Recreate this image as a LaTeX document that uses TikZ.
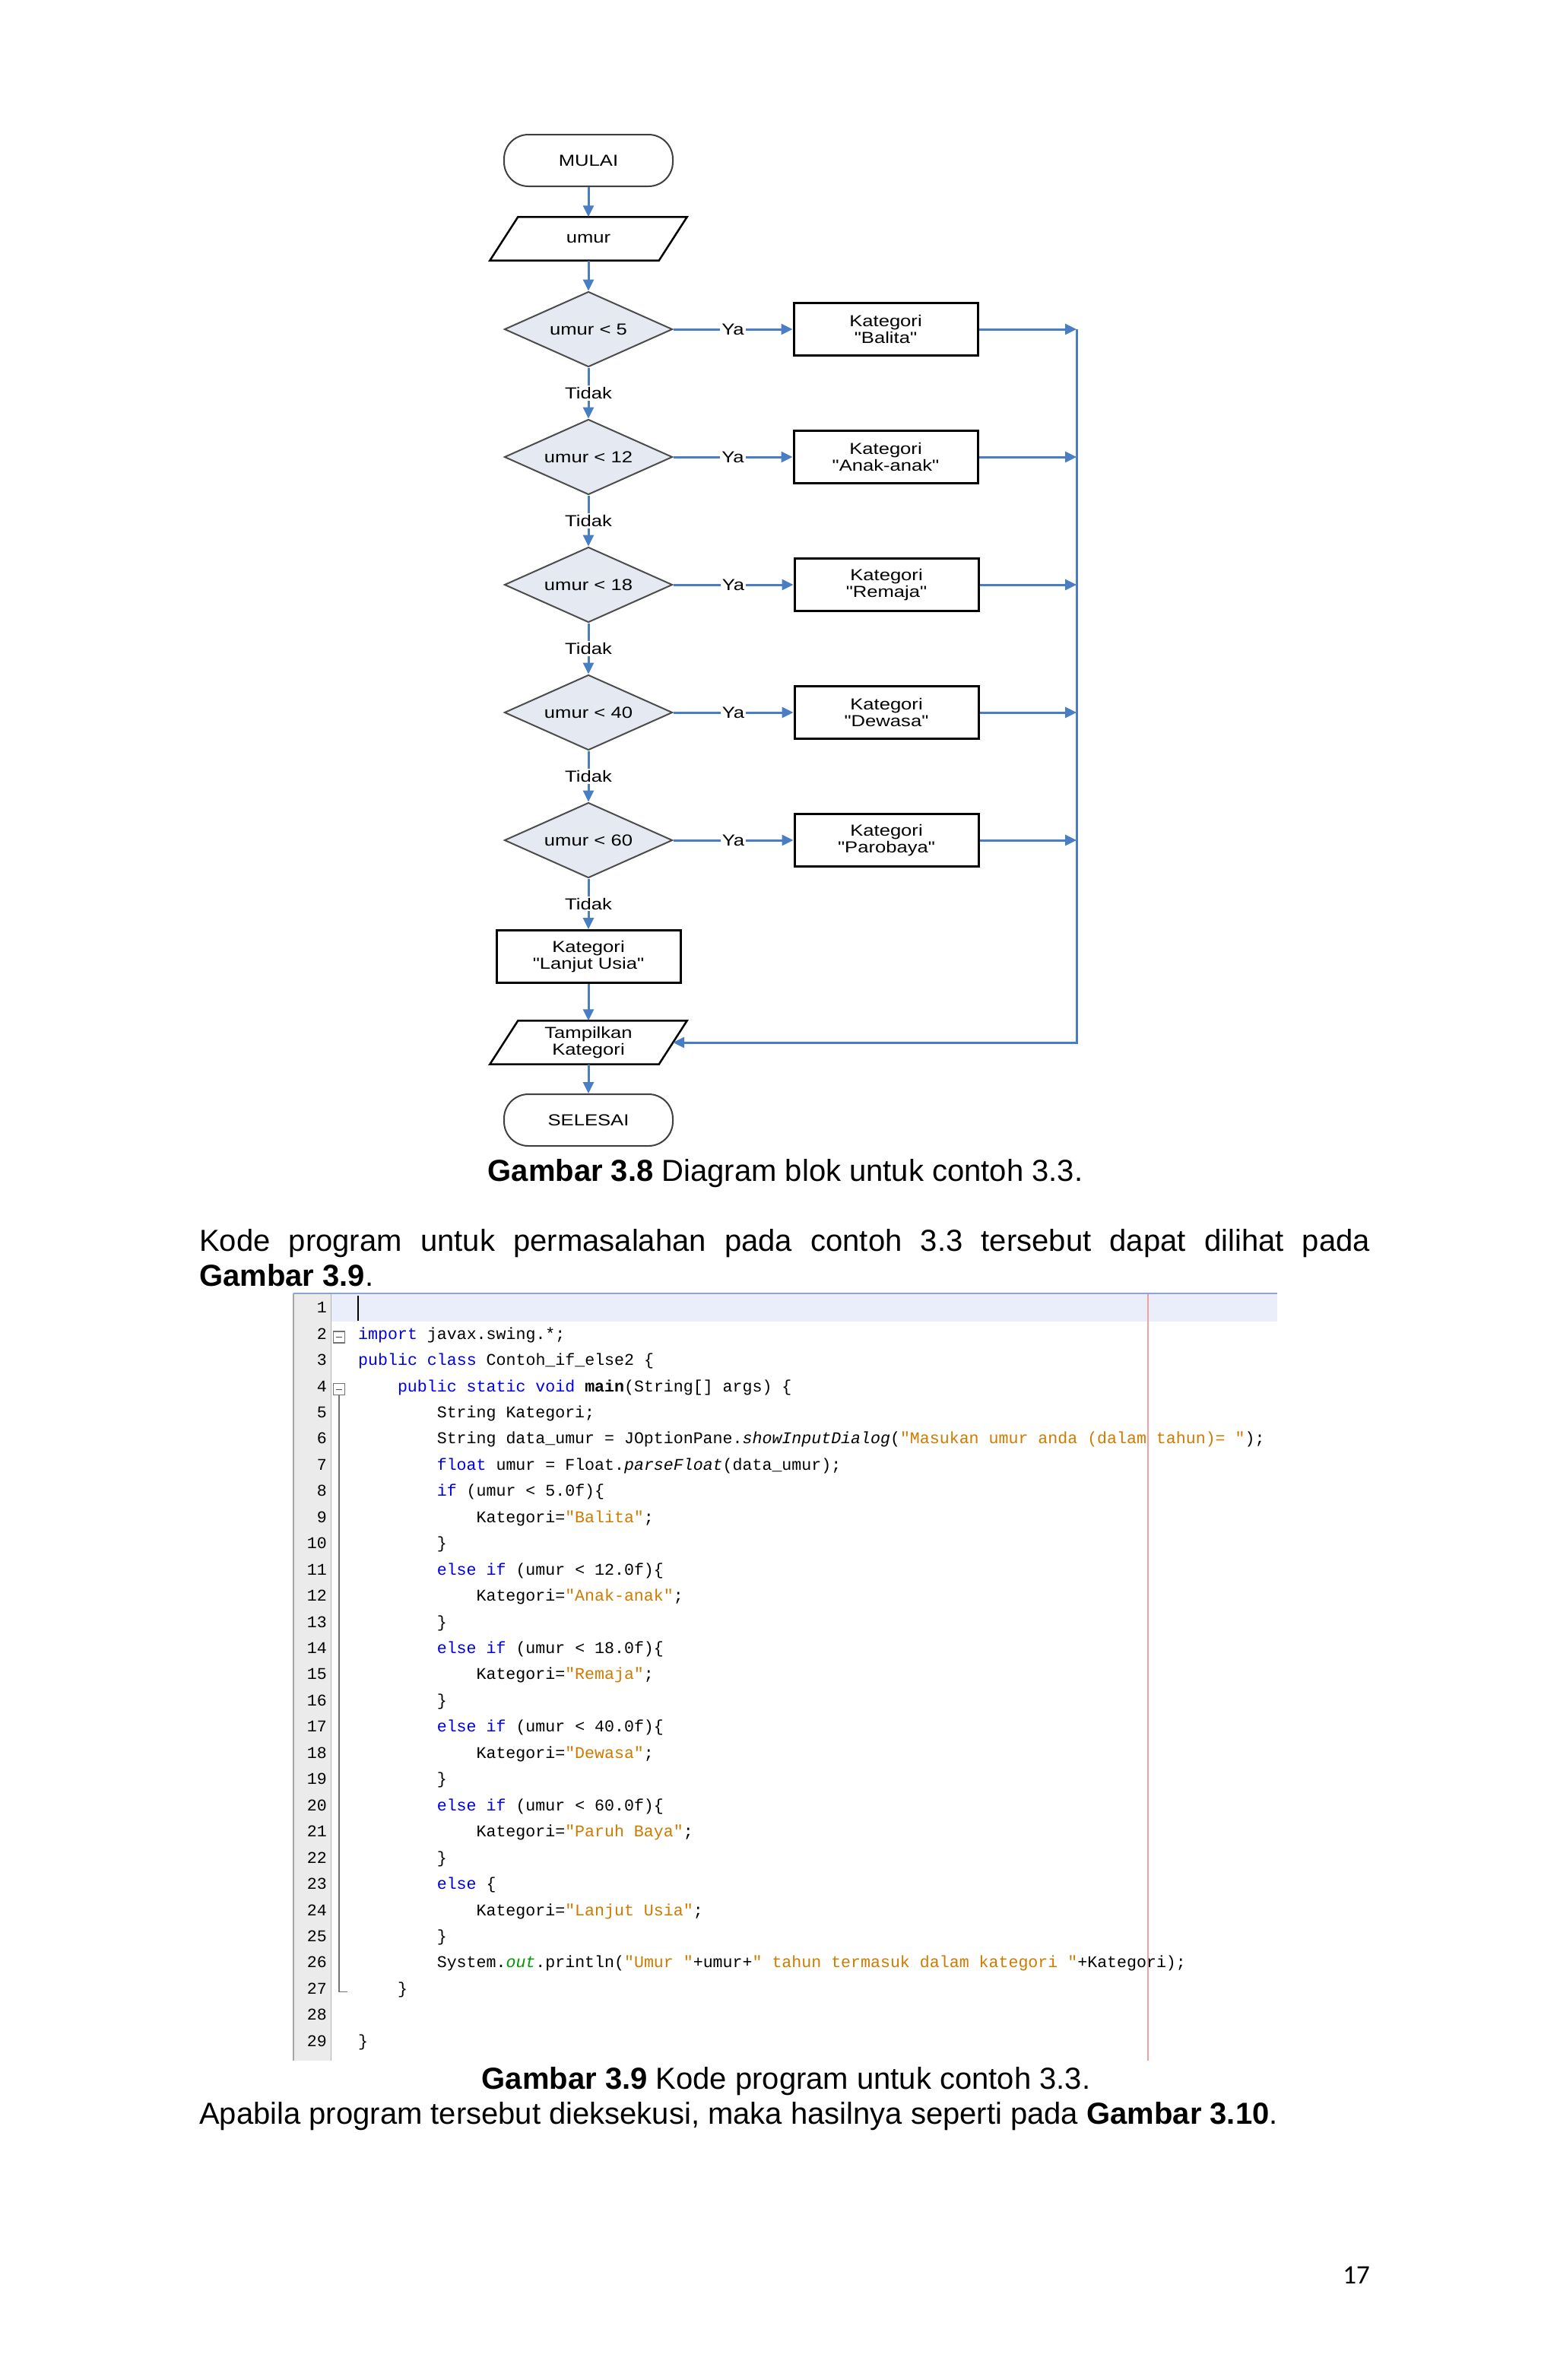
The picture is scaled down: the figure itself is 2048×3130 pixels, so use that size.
\documentclass[tikz,border=0pt]{standalone}
\usepackage{fontspec}
\setmainfont{Liberation Sans}
\newfontfamily\codefont{Liberation Mono}
\newfontfamily\flowfont[FakeStretch=1.22]{Liberation Sans}
\newfontfamily\pagefont{Carlito}
\usetikzlibrary{arrows.meta,shapes.geometric,calc}
\definecolor{flowblue}{RGB}{74,126,196}
\definecolor{dfill}{RGB}{228,233,242}
\definecolor{kwblue}{RGB}{0,0,230}
\definecolor{strorange}{RGB}{206,123,0}
\definecolor{fldgreen}{RGB}{0,153,0}
\definecolor{guttergray}{RGB}{235,235,235}
\definecolor{hiline}{RGB}{233,238,250}
\definecolor{topline}{RGB}{140,165,205}
\definecolor{marginred}{RGB}{244,160,160}
\newcommand\ckw[1]{\textcolor{kwblue}{#1}}
\newcommand\cstr[1]{\textcolor{strorange}{#1}}
\newcommand\flowtext{\flowfont\fontsize{21}{22}\selectfont}
\newcommand\bodytext{\fontsize{40}{46}\selectfont}
\newcommand\codetext{\codefont\fontsize{21.6}{25}\selectfont}
\begin{document}
\begin{tikzpicture}[x=1pt,y=-1pt,
  flow/.style={draw=flowblue, line width=3pt, -{Triangle[length=15pt,width=14pt]}},
  term/.style={rectangle, draw=black!75, line width=2pt, rounded corners=32pt, minimum width=222pt, minimum height=68pt, font=\flowtext, inner sep=0pt},
  dec/.style={diamond, aspect=2.23, draw=black!70, line width=2pt, fill=dfill, minimum width=221pt, minimum height=99pt, inner sep=0pt, font=\flowtext},
  proc/.style={rectangle, draw=black, line width=3pt, minimum width=242pt, minimum height=69pt, align=center, font=\flowtext, inner sep=0pt},
  io/.style={rectangle, minimum width=222pt, minimum height=57pt, align=center, font=\flowtext, inner sep=0pt},
  lbl/.style={fill=white, inner sep=2pt, font=\flowtext},
  code/.style={anchor=mid west, inner sep=0pt, font=\codetext},
  lnum/.style={anchor=mid east, inner sep=0pt, font=\codetext},
  body/.style={inner sep=0pt, font=\bodytext}]
\fill[white] (0,0) rectangle (2048,3130);
\useasboundingbox (0,0) rectangle (2048,3130);

% ---------------- flowchart ----------------
\node[term] (mulai) at (774,211) {MULAI};
\node[io] (umur) at (774,314) {umur};
\draw[black, line width=2.5pt] ($(umur.north west)+(18.5,0)$) -- ($(umur.north east)+(18.5,0)$) -- ($(umur.south east)+(-18.5,0)$) -- ($(umur.south west)+(-18.5,0)$) -- cycle;
\node[dec] (d1) at (774,433) {umur < 5};
\node[dec] (d2) at (774,601) {umur < 12};
\node[dec] (d3) at (774,769) {umur < 18};
\node[dec] (d4) at (774,937) {umur < 40};
\node[dec] (d5) at (774,1105) {umur < 60};
\node[proc] (k1) at (1165,433) {Kategori\\"Balita"};
\node[proc] (k2) at (1165,601) {Kategori\\"Anak-anak"};
\node[proc] (k3) at (1166,769) {Kategori\\"Remaja"};
\node[proc] (k4) at (1166,937) {Kategori\\"Dewasa"};
\node[proc] (k5) at (1166,1105) {Kategori\\"Parobaya"};
\node[proc] (k6) at (774,1258) {Kategori\\"Lanjut Usia"};
\node[io] (tamp) at (774,1371) {Tampilkan\\Kategori};
\draw[black, line width=2.5pt] ($(tamp.north west)+(18.5,0)$) -- ($(tamp.north east)+(18.5,0)$) -- ($(tamp.south east)+(-18.5,0)$) -- ($(tamp.south west)+(-18.5,0)$) -- cycle;
\node[term] (selesai) at (774,1473) {SELESAI};
\coordinate (rt) at (1416,433);
\coordinate (rb) at (1416,1371);

\draw[flow] (mulai) -- (umur);
\draw[flow] (umur) -- (d1);
\draw[flow] (d1) -- node[lbl]{Tidak} (d2);
\draw[flow] (d2) -- node[lbl]{Tidak} (d3);
\draw[flow] (d3) -- node[lbl]{Tidak} (d4);
\draw[flow] (d4) -- node[lbl]{Tidak} (d5);
\draw[flow] (d5) -- node[lbl]{Tidak} (k6);
\draw[flow] (k6) -- (tamp);
\draw[flow] (tamp) -- (selesai);
\foreach \i in {1,...,5}{
  \draw[flow] (d\i) -- node[lbl]{Ya} (k\i);
  \draw[flow] (k\i) -- (k\i -| rt);
}
\draw[flow] (rt) -- (rb) -- (tamp.east);

% ---------------- texts ----------------
\node[body, anchor=base] (cap38) at (1033,1553) {\textbf{Gambar 3.8} Diagram blok untuk contoh 3.3.};
\node[body, anchor=base west] (par1) at (262,1645) {\makebox[1540pt][s]{Kode program untuk permasalahan pada contoh 3.3 tersebut dapat dilihat pada}};
\node[body, anchor=base west] (par2) at (262,1691) {\textbf{Gambar 3.9}.};

% ---------------- code editor ----------------
\fill[guttergray] (386,1701) rectangle (435,2710);
\draw[black!35, line width=1.5pt] (386,1701) -- (386,2710);
\draw[black!30, line width=1pt] (435,1701) -- (435,2710);
\fill[hiline] (436,1702) rectangle (1680,1738);
\draw[topline, line width=2pt] (386,1701) -- (1680,1701);
\draw[marginred, line width=1.5pt] (1510,1702) -- (1510,2710);

\foreach \n in {1,...,29}{
  \node[lnum] (ln\n) at (430,{1724+34.45*(\n-1)}) {\n};
}
\draw[black, line width=2.5pt] (471,1704) -- (471,1737);

\node[draw=black!55, line width=1.2pt, fill=white, minimum size=15pt, inner sep=0pt] (f2) at (446,1758.45) {};
\draw[black!70, line width=1.2pt] ($(f2.center)+(-4,0)$) -- ($(f2.center)+(4,0)$);
\node[draw=black!55, line width=1.2pt, fill=white, minimum size=15pt, inner sep=0pt] (f4) at (446,1827.35) {};
\draw[black!70, line width=1.2pt] ($(f4.center)+(-4,0)$) -- ($(f4.center)+(4,0)$);
\draw[black!55, line width=1.2pt] (f4.south) -- (446,2619.7) -- (457,2619.7);

\node[code] (c2) at (471,1758.45) {\ckw{import} javax.swing.*;};
\node[code] (c3) at (471,1792.9) {\ckw{public class} Contoh\_if\_else2 \{};
\node[code] (c4) at (522.8,1827.35) {\ckw{public static void} \textbf{main}(String[] args) \{};
\node[code] (c5) at (574.6,1861.8) {String Kategori;};
\node[code] (c6) at (574.6,1896.25) {String data\_umur = JOptionPane.\textit{showInputDialog}(\cstr{"Masukan umur anda (dalam tahun)= "});};
\node[code] (c7) at (574.6,1930.7) {\ckw{float} umur = Float.\textit{parseFloat}(data\_umur);};
\node[code] (c8) at (574.6,1965.15) {\ckw{if} (umur < 5.0f)\{};
\node[code] (c9) at (626.4,1999.6) {Kategori=\cstr{"Balita"};};
\node[code] (c10) at (574.6,2034.05) {\}};
\node[code] (c11) at (574.6,2068.5) {\ckw{else if} (umur < 12.0f)\{};
\node[code] (c12) at (626.4,2102.95) {Kategori=\cstr{"Anak-anak"};};
\node[code] (c13) at (574.6,2137.4) {\}};
\node[code] (c14) at (574.6,2171.85) {\ckw{else if} (umur < 18.0f)\{};
\node[code] (c15) at (626.4,2206.3) {Kategori=\cstr{"Remaja"};};
\node[code] (c16) at (574.6,2240.75) {\}};
\node[code] (c17) at (574.6,2275.2) {\ckw{else if} (umur < 40.0f)\{};
\node[code] (c18) at (626.4,2309.65) {Kategori=\cstr{"Dewasa"};};
\node[code] (c19) at (574.6,2344.1) {\}};
\node[code] (c20) at (574.6,2378.55) {\ckw{else if} (umur < 60.0f)\{};
\node[code] (c21) at (626.4,2413) {Kategori=\cstr{"Paruh Baya"};};
\node[code] (c22) at (574.6,2447.45) {\}};
\node[code] (c23) at (574.6,2481.9) {\ckw{else} \{};
\node[code] (c24) at (626.4,2516.35) {Kategori=\cstr{"Lanjut Usia"};};
\node[code] (c25) at (574.6,2550.8) {\}};
\node[code] (c26) at (574.6,2585.25) {System.\textcolor{fldgreen}{\textit{out}}.println(\cstr{"Umur "}+umur+\cstr{" tahun termasuk dalam kategori "}+Kategori);};
\node[code] (c27) at (522.8,2619.7) {\}};
\node[code] (c29) at (471,2688.6) {\}};

% ---------------- lower texts ----------------
\node[body, anchor=base] (cap39) at (1034,2747) {\textbf{Gambar 3.9} Kode program untuk contoh 3.3.};
\node[body, anchor=base west] (par3) at (262,2793) {Apabila program tersebut dieksekusi, maka hasilnya seperti pada \textbf{Gambar 3.10}.};
\node[inner sep=0pt, anchor=base, font=\pagefont\fontsize{35}{40}\selectfont] (pg) at (1784,3003) {17};
\end{tikzpicture}
\end{document}
